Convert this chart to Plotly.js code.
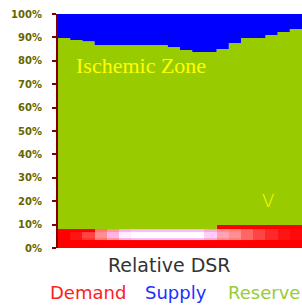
<!DOCTYPE html>
<html><head><meta charset="utf-8">
<script src="https://cdn.plot.ly/plotly-3.0.1.min.js"></script>
<style>html,body{margin:0;padding:0;background:#fff;}#chart{width:302px;height:306px;}</style>
</head><body><div id="chart"></div>
<script>
// Relative DSR positions (21 samples across the axis)
const dsrPos = [0,1,2,3,4,5,6,7,8,9,10,11,12,13,14,15,16,17,18,19,20];
// Stacked percentages
const demand  = [6.8,6.8,6.8,8.1,8.1,8.1,8.1,8.1,8.1,8.1,8.1,8.1,8.1,9.8,9.8,9.8,9.8,9.8,9.8,9.8,9.8];
const reserve = [82.9,82.1,81.6,78.7,78.7,78.7,78.7,78.7,78.7,77.8,76.5,75.7,75.7,75.2,77.8,79.9,79.9,81.2,82.5,83.8,83.8];
const supply  = [10.3,11.1,11.6,13.2,13.2,13.2,13.2,13.2,13.2,14.1,15.4,16.2,16.2,15.0,12.4,10.3,10.3,9.0,7.7,6.4,6.4];
// Inner demand intensity strip (rows: outer, core, outer)
const stripRowEdges = [3.4, 4.3, 6.8, 8.1];
const stripOuter = [0,0.1,0.25,0.45,0.6,0.75,0.8,0.8,0.8,0.8,0.8,0.8,0.7,0.55,0.5,0.4,0.3,0.2,0.1,0.05];
const stripCore  = [0,0.1,0.3,0.55,0.75,0.95,1,1,1,1,1,1,0.85,0.65,0.55,0.4,0.3,0.2,0.1,0.05];
const stripTop   = [0,0,0,0.45,0.6,0.75,0.8,0.8,0.8,0.8,0.8,0.8,0.7,0.55,0.5,0.4,0.3,0.2,0.1,0.05];
const yTickVals = [0,10,20,30,40,50,60,70,80,90,100];
const yTickText = ['0%','10%','20%','30%','40%','50%','60%','70%','80%','90%','100%'];
const legendNames = ['Demand','Supply','Reserve'];

const traces = [
  {x: dsrPos, y: demand, stackgroup: 'one', name: 'Demand', mode: 'none',
   line: {shape: 'hv', width: 0}, fillcolor: '#ff0000', hoverinfo: 'skip'},
  {x: dsrPos, y: reserve, stackgroup: 'one', name: 'Reserve', mode: 'none',
   line: {shape: 'hv', width: 0}, fillcolor: '#99cc00', hoverinfo: 'skip'},
  {x: dsrPos, y: supply, stackgroup: 'one', name: 'Supply', mode: 'none',
   line: {shape: 'hv', width: 0}, fillcolor: '#0000ff', hoverinfo: 'skip'},
  {type: 'heatmap', x: dsrPos, y: stripRowEdges, z: [stripOuter, stripCore, stripTop],
   xaxis: 'x2', yaxis: 'y2',
   zmin: 0, zmax: 1, showscale: false, hoverinfo: 'skip',
   colorscale: [[0,'#ff0000'],[0.25,'#ff3333'],[0.45,'#ff7777'],[0.6,'#ff9999'],[0.8,'#ffbbff'],[1,'#ffffff']]}
];

const layout = {
  width: 302, height: 306,
  margin: {l: 58, r: 0, t: 14, b: 58},
  paper_bgcolor: '#ffffff', plot_bgcolor: '#ffffff',
  showlegend: false,
  xaxis: {range: [0, 20], showticklabels: false, showgrid: false, zeroline: false,
          ticks: '', showline: false, fixedrange: true},
  yaxis: {range: [0, 100], tickvals: yTickVals, ticktext: yTickText,
          showgrid: false, zeroline: false, showline: true, linecolor: '#800000', linewidth: 2,
          ticks: 'outside', ticklen: 4, tickcolor: '#800000', tickwidth: 2,
          ticklabelstandoff: 8,
          tickfont: {family: 'DejaVu Sans', size: 10, color: '#666600', weight: 'bold'}},
  xaxis2: {overlaying: 'x', range: [0, 20], visible: false},
  yaxis2: {overlaying: 'y', range: [0, 100], visible: false},
  annotations: [
    {xref: 'paper', yref: 'paper', x: 0.065, y: 0.78, xanchor: 'left', yanchor: 'middle',
     text: 'Ischemic Zone', showarrow: false,
     font: {family: 'Liberation Serif', size: 22, color: '#ffff00'}},
    {xref: 'paper', yref: 'paper', x: 0.862, y: 0.205, xanchor: 'center', yanchor: 'middle',
     text: 'V', showarrow: false,
     font: {family: 'DejaVu Sans', size: 18, color: '#ffff00', weight: 300}},
    {xref: 'paper', yref: 'paper', x: 0.457, y: -0.073, xanchor: 'center', yanchor: 'middle',
     text: 'Relative DSR', showarrow: false,
     font: {family: 'DejaVu Sans', size: 19, color: '#333333'}},
    {xref: 'paper', yref: 'paper', x: -0.04, y: -0.192, xanchor: 'left', yanchor: 'middle',
     text: legendNames[0], showarrow: false,
     font: {family: 'DejaVu Sans', size: 18, color: '#ff2020'}},
    {xref: 'paper', yref: 'paper', x: 0.35, y: -0.192, xanchor: 'left', yanchor: 'middle',
     text: legendNames[1], showarrow: false,
     font: {family: 'DejaVu Sans', size: 18, color: '#2030ff'}},
    {xref: 'paper', yref: 'paper', x: 0.69, y: -0.192, xanchor: 'left', yanchor: 'middle',
     text: legendNames[2], showarrow: false,
     font: {family: 'DejaVu Sans', size: 18, color: '#99cc33'}}
  ]
};
Plotly.newPlot('chart', traces, layout, {displayModeBar: false, staticPlot: true});
</script></body></html>
